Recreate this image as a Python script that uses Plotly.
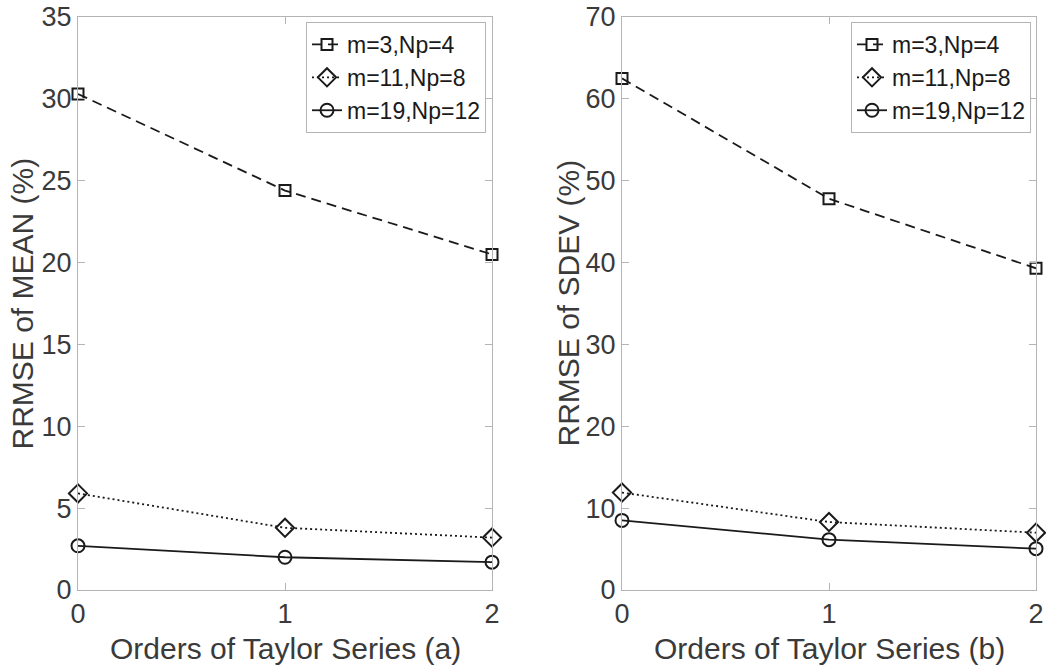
import plotly.graph_objects as go

# Orders of the Taylor series expansion
orders = [0, 1, 2]

# Series labels
series_names = ["m=3,Np=4", "m=11,Np=8", "m=19,Np=12"]

# RRMSE of the mean (%)
mean_m3 = [30.3, 24.4, 20.5]
mean_m11 = [5.9, 3.8, 3.2]
mean_m19 = [2.7, 2.0, 1.7]

# RRMSE of the standard deviation (%)
sdev_m3 = [62.5, 47.8, 39.3]
sdev_m11 = [11.9, 8.3, 7.0]
sdev_m19 = [8.5, 6.15, 5.05]

W, H = 1046, 669
INK = "#1a1a1a"
TXT = "#3a3a3a"
AXC = "#b4b4b4"
FONT = "Liberation Sans, Arial, sans-serif"

styles = [
    dict(dash="10px,6px", symbol="square-open", size=11),
    dict(dash="2px,3px", symbol="diamond-open", size=14),
    dict(dash="solid", symbol="circle-open", size=13),
]

fig = go.Figure()

panels = [
    ("x", "y", "legend", [mean_m3, mean_m11, mean_m19]),
    ("x2", "y2", "legend2", [sdev_m3, sdev_m11, sdev_m19]),
]
for xa, ya, lg, data in panels:
    for name, vals, st in zip(series_names, data, styles):
        fig.add_trace(go.Scatter(
            x=orders, y=vals, name=name, mode="lines+markers",
            xaxis=xa, yaxis=ya, legend=lg, cliponaxis=False,
            line=dict(color=INK, width=1.8, dash=st["dash"]),
            marker=dict(symbol=st["symbol"], size=st["size"], color=INK,
                        line=dict(color=INK, width=2)),
        ))

def px_x(p):
    return p / W

def px_y(p):
    return 1 - p / H

axis_common = dict(
    showgrid=False, zeroline=False, showline=True, linecolor=AXC, linewidth=1,
    mirror="ticks", ticks="inside", ticklen=7, tickcolor=AXC, tickwidth=1,
    automargin=False,
    tickfont=dict(family=FONT, size=27, color=TXT),
)

legend_common = dict(
    xanchor="right", yanchor="top", bgcolor="white", bordercolor=AXC,
    borderwidth=1, font=dict(family=FONT, size=23, color=INK),
    tracegroupgap=0, itemwidth=30,
)

ydom = [px_y(590), px_y(17)]
fig.update_layout(
    width=W, height=H, margin=dict(l=0, r=0, t=0, b=0, autoexpand=False),
    paper_bgcolor="white", plot_bgcolor="white",
    font=dict(family=FONT, color=TXT),
    xaxis=dict(domain=[px_x(78), px_x(492)], range=[0, 2], dtick=1,
               anchor="y", **axis_common),
    yaxis=dict(domain=ydom, range=[0, 35], dtick=5, anchor="x", **axis_common),
    xaxis2=dict(domain=[px_x(622), px_x(1036)], range=[0, 2], dtick=1,
                anchor="y2", **axis_common),
    yaxis2=dict(domain=ydom, range=[0, 70], dtick=10, anchor="x2", **axis_common),
    legend=dict(x=px_x(486), y=px_y(22), **legend_common),
    legend2=dict(x=px_x(1031), y=px_y(22), **legend_common),
)

# Axis titles
titles = [
    ("RRMSE of MEAN (%)", px_x(22), (ydom[0] + ydom[1]) / 2, -90),
    ("RRMSE of SDEV (%)", px_x(568), (ydom[0] + ydom[1]) / 2, -90),
    ("Orders of Taylor Series (a)", px_x(285), px_y(648), 0),
    ("Orders of Taylor Series (b)", px_x(829), px_y(648), 0),
]
for text, x, y, ang in titles:
    fig.add_annotation(text=text, x=x, y=y, xref="paper", yref="paper",
                       xanchor="center", yanchor="middle", showarrow=False,
                       textangle=ang,
                       font=dict(family=FONT, size=30, color=TXT))

fig.write_html("out.html")
